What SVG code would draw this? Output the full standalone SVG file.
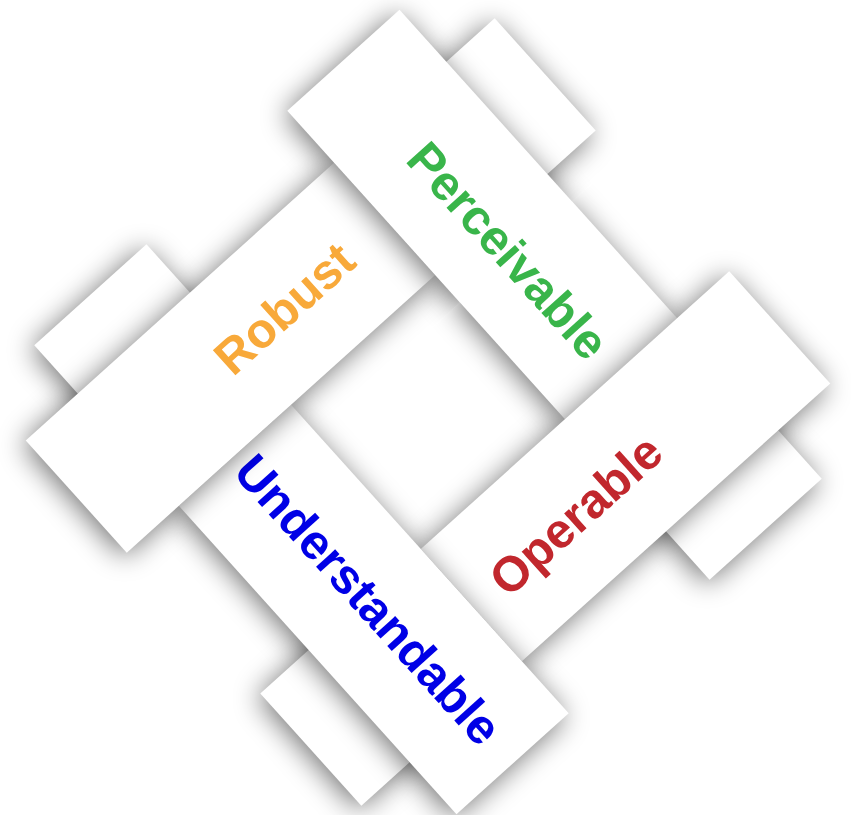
<svg xmlns="http://www.w3.org/2000/svg" width="851" height="815" viewBox="0 0 851 815">
<defs>
<style>
.bar{fill:#ffffff}
.lbl{font-family:"Liberation Sans",Arial,sans-serif;font-weight:bold;font-size:49px;text-anchor:middle}
</style>
<filter id="sh" x="-40%" y="-40%" width="180%" height="180%" color-interpolation-filters="sRGB">
<feGaussianBlur in="SourceAlpha" stdDeviation="14"/>
<feOffset dx="-3" dy="4"/>
<feComponentTransfer><feFuncA type="linear" slope="0.55"/></feComponentTransfer>
<feMerge><feMergeNode/><feMergeNode in="SourceGraphic"/></feMerge>
</filter>
<clipPath id="cIn" clipPathUnits="userSpaceOnUse">
<rect transform="translate(428 412) rotate(48)" x="-60" y="-900" width="1000" height="1800"/>
</clipPath>
<clipPath id="cOut" clipPathUnits="userSpaceOnUse">
<rect transform="translate(428 412) rotate(48)" x="-1000" y="-900" width="940" height="1800"/>
</clipPath>
</defs>
<rect width="851" height="815" fill="#ffffff"/>

<g id="tabs">
<g filter="url(#sh)"><rect class="bar" transform="translate(428 412) rotate(48)" x="-248" y="-313" width="151" height="130"/></g>
<g filter="url(#sh)"><rect class="bar" transform="translate(428 412) rotate(138)" x="-248" y="-313" width="151" height="130"/></g>
<g filter="url(#sh)"><rect class="bar" transform="translate(428 412) rotate(228)" x="-248" y="-313" width="151" height="130"/></g>
<g filter="url(#sh)"><rect class="bar" transform="translate(428 412) rotate(318)" x="-248" y="-313" width="151" height="130"/></g>
</g>

<g id="perceivable-inner" clip-path="url(#cIn)">
<g filter="url(#sh)"><rect class="bar" transform="translate(428 412) rotate(48)" x="-70" y="-248" width="167" height="151"/></g>
</g>

<g id="operable">
<g filter="url(#sh)"><rect class="bar" transform="translate(428 412) rotate(138)" x="-318" y="-248" width="415" height="151"/></g>
<text class="lbl" fill="#C1272D" transform="translate(575.8 515) rotate(-42)" x="0" y="17">Operable</text>
</g>

<g id="understandable">
<g filter="url(#sh)"><rect class="bar" transform="translate(428 412) rotate(228)" x="-318" y="-248" width="415" height="151"/></g>
<text class="lbl" fill="#0000E6" transform="translate(368.2 599.5) rotate(48)" x="0" y="17">Understandable</text>
</g>

<g id="robust">
<g filter="url(#sh)"><rect class="bar" transform="translate(428 412) rotate(318)" x="-318" y="-248" width="415" height="151"/></g>
<text class="lbl" fill="#F8A93A" transform="translate(284.3 308.3) rotate(-42)" x="0" y="17">Robust</text>
</g>

<g id="perceivable">
<g clip-path="url(#cOut)">
<g filter="url(#sh)"><rect class="bar" transform="translate(428 412) rotate(48)" x="-318" y="-248" width="268" height="151"/></g>
</g>
<text class="lbl" fill="#39B54A" transform="translate(508 250.5) rotate(48)" x="0" y="17">Perceivable</text>
</g>
</svg>
